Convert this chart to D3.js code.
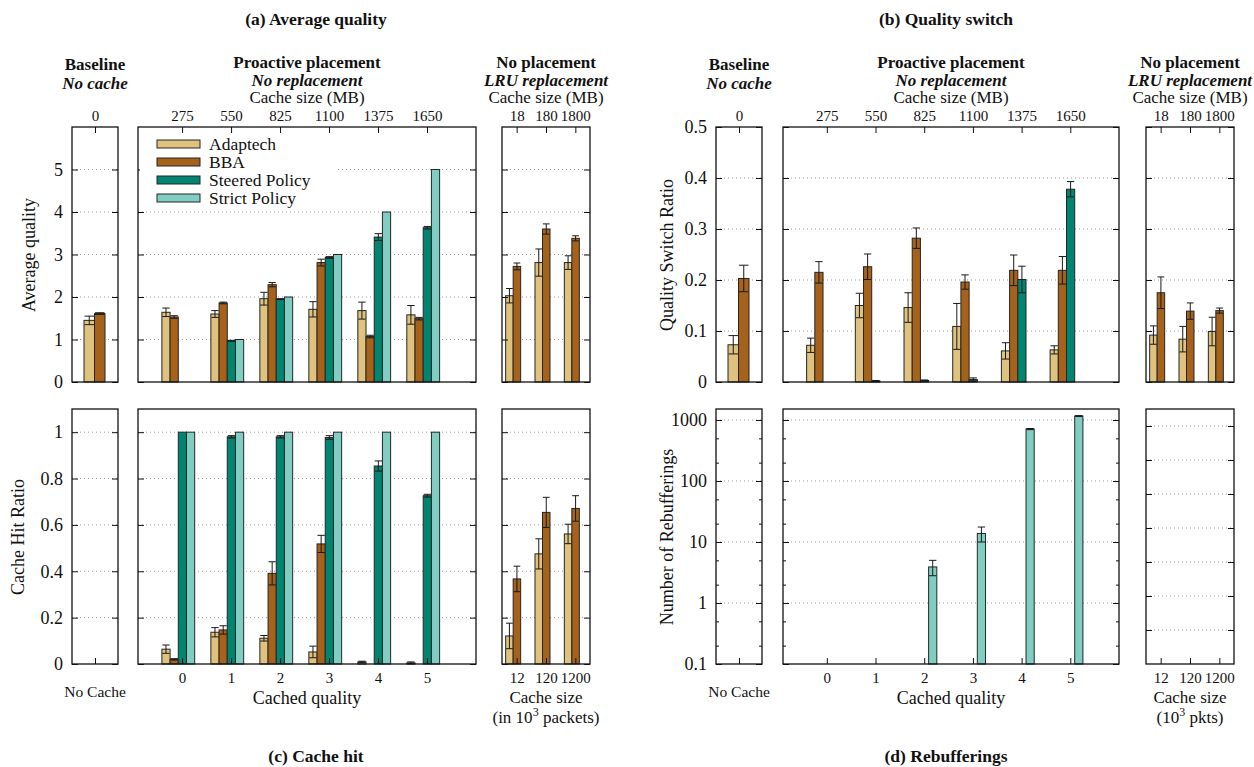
<!DOCTYPE html>
<html><head><meta charset="utf-8">
<script src="https://cdn.jsdelivr.net/npm/d3@7"></script>
<style>
body{margin:0;background:#fff}
svg{display:block}
text{font-family:"Liberation Serif","Times New Roman",Times,serif;fill:#111}
</style>
</head><body>
<script>
// ---------------- DATA ----------------
const seriesNames = ["Adaptech","BBA","Steered Policy","Strict Policy"];
const seriesColors = ["#dfc27d","#a6611a","#018571","#80cdc1"];
const cachedQuality = ["0","1","2","3","4","5"];
const proactiveSizesMB = ["275","550","825","1100","1375","1650"];
const lruSizesMB = ["18","180","1800"];
const lruSizesPkts = ["12","120","1200"];
const baselineSize = ["0"];

// (a) Average quality
const avgBaseline = [1.45, 1.61];
const avgBaselineErr = [0.10, 0.02];
const avgAdaptech = [1.64, 1.60, 1.96, 1.71, 1.68, 1.58];
const avgAdaptechErr = [0.10, 0.08, 0.15, 0.18, 0.20, 0.22];
const avgBBA = [1.53, 1.86, 2.29, 2.81, 1.07, 1.49];
const avgBBAErr = [0.03, 0.02, 0.05, 0.08, 0.03, 0.03];
const avgSteered = [0, 0.97, 1.95, 2.93, 3.41, 3.63];
const avgSteeredErr = [0, 0.01, 0.01, 0.02, 0.08, 0.03];
const avgStrict = [0, 1.0, 2.0, 3.0, 4.0, 5.0];
const avgStrictErr = [0, 0, 0, 0, 0, 0];
const avgLruAdaptech = [2.03, 2.81, 2.81];
const avgLruAdaptechErr = [0.17, 0.32, 0.16];
const avgLruBBA = [2.72, 3.60, 3.38];
const avgLruBBAErr = [0.08, 0.12, 0.06];

// (b) Quality switch ratio
const swBaseline = [0.073, 0.203];
const swBaselineErr = [0.018, 0.026];
const swAdaptech = [0.072, 0.150, 0.146, 0.109, 0.061, 0.063];
const swAdaptechErr = [0.014, 0.024, 0.029, 0.045, 0.016, 0.008];
const swBBA = [0.215, 0.226, 0.282, 0.196, 0.219, 0.219];
const swBBAErr = [0.021, 0.025, 0.020, 0.014, 0.030, 0.027];
const swSteered = [0, 0.002, 0.003, 0.005, 0.201, 0.378];
const swSteeredErr = [0, 0.001, 0.001, 0.003, 0.026, 0.015];
const swStrict = [0, 0, 0, 0, 0, 0];
const swStrictErr = [0, 0, 0, 0, 0, 0];
const swLruAdaptech = [0.092, 0.084, 0.099];
const swLruAdaptechErr = [0.018, 0.025, 0.028];
const swLruBBA = [0.175, 0.139, 0.140];
const swLruBBAErr = [0.031, 0.016, 0.005];

// (c) Cache hit ratio
const hitBaseline = [0, 0];
const hitBaselineErr = [0, 0];
const hitAdaptech = [0.064, 0.137, 0.111, 0.052, 0.009, 0.005];
const hitAdaptechErr = [0.018, 0.020, 0.012, 0.025, 0.003, 0.004];
const hitBBA = [0.020, 0.147, 0.391, 0.518, 0, 0];
const hitBBAErr = [0.003, 0.018, 0.050, 0.037, 0, 0];
const hitSteered = [1.0, 0.98, 0.98, 0.977, 0.854, 0.726];
const hitSteeredErr = [0, 0.005, 0.005, 0.008, 0.022, 0.006];
const hitStrict = [1, 1, 1, 1, 1, 1];
const hitStrictErr = [0, 0, 0, 0, 0, 0];
const hitLruAdaptech = [0.121, 0.475, 0.561];
const hitLruAdaptechErr = [0.055, 0.065, 0.042];
const hitLruBBA = [0.367, 0.654, 0.671];
const hitLruBBAErr = [0.055, 0.065, 0.055];

// (d) Number of rebufferings
const rebAdaptech = [0, 0, 0, 0, 0, 0];
const rebBBA = [0, 0, 0, 0, 0, 0];
const rebSteered = [0, 0, 0, 0, 0, 0];
const rebStrict = [0, 0, 3.9, 13.8, 710, 1160];
const rebStrictErr = [0, 0, 1.1, 3.8, 15, 20];
const zeros6 = [0, 0, 0, 0, 0, 0];

// tick values
const avgTicks = [0,1,2,3,4,5];
const hitTicks = [0,0.2,0.4,0.6,0.8,1];
const swTicks = [0,0.1,0.2,0.3,0.4,0.5];
const rebTicks = [0.1,1,10,100,1000];
const rebMinor = [0.2,0.5,2,5,20,50,200,500];
const rebLruTicks = [1,2,3,4,5,6,7];

// ---------------- LAYOUT ----------------
const W = 1254, H = 767;
const FONT = '"Liberation Serif","Times New Roman",Times,serif';
const svg = d3.select("body").append("svg").attr("width", W).attr("height", H);

const yAvg = d3.scaleLinear().domain([0, 6]).range([382, 127]);
const ySw = d3.scaleLinear().domain([0, 0.5]).range([382, 127]);
const yHit = d3.scaleLinear().domain([0, 1.1]).range([664, 409]);
const yReb = d3.scaleLog().domain([0.1, 1514]).range([664, 409]);
const yRebLru = d3.scaleLinear().domain([0, 7.5]).range([664, 409]);

const cols = {
  L: {base:[72,118], mid:[138,476], lru:[502,590]},
  R: {base:[716,762], mid:[783,1119], lru:[1146,1234]}
};
const kinds = {
  base: {xDomain:[-1,1], barW:10.5, offset:-0.5, n:2},
  mid:  {xDomain:[-0.9,6.0], barW:8.2, offset:-3.8, n:4},
  lru:  {xDomain:[-0.5,2.5], barW:7.5, offset:-3.5, n:2}
};

function mk(vals, errs, color){ return {vals, errs, color}; }

function drawPanel(o){
  const K = kinds[o.kind];
  const [x0, x1] = o.xr;
  const g = svg.append("g");
  const x = d3.scaleLinear().domain(K.xDomain).range([x0, x1]);
  const y = o.y;
  const [yB, yT] = y.range();

  // gridlines
  g.append("g").selectAll("line").data(o.grid).join("line")
    .attr("x1", x0).attr("x2", x1)
    .attr("y1", d => y(d)).attr("y2", d => y(d))
    .attr("stroke", "#9c9c9c").attr("stroke-width", 1)
    .attr("stroke-dasharray", "1,3");

  // bars
  const flat = [];
  o.series.forEach((s, k) => s.vals.forEach((v, i) => {
    if (v > 0) flat.push({i, k, v, e: (s.errs ? s.errs[i] : 0), color: s.color});
  }));
  const cx = d => x(d.i) + K.offset + (d.k - (K.n - 1) / 2) * K.barW;
  g.append("g").selectAll("rect").data(flat).join("rect")
    .attr("x", d => cx(d) - K.barW / 2)
    .attr("width", K.barW)
    .attr("y", d => y(d.v))
    .attr("height", d => yB - y(d.v))
    .attr("fill", d => d.color)
    .attr("stroke", "#262626").attr("stroke-width", 1);

  // error bars
  const eb = flat.filter(d => d.e > 0);
  const lo = d => y(Math.max(d.v - d.e, y.domain()[0]));
  const hi = d => y(d.v + d.e);
  const eg = g.append("g").attr("stroke", "#1a1a1a").attr("stroke-width", 1);
  eg.selectAll(".v").data(eb).join("line").attr("class","v")
    .attr("x1", cx).attr("x2", cx).attr("y1", lo).attr("y2", hi);
  const capW = K.barW * 0.9;
  eg.selectAll(".t").data(eb).join("line").attr("class","t")
    .attr("x1", d => cx(d) - capW/2).attr("x2", d => cx(d) + capW/2)
    .attr("y1", hi).attr("y2", hi);
  eg.selectAll(".b").data(eb).join("line").attr("class","b")
    .attr("x1", d => cx(d) - capW/2).attr("x2", d => cx(d) + capW/2)
    .attr("y1", lo).attr("y2", lo);

  // y axes
  const yl = g.append("g").attr("class","yax").attr("transform", `translate(${x0},0)`)
    .call(d3.axisLeft(y).tickValues(o.yTicks)
          .tickSizeInner(-6).tickSizeOuter(0).tickPadding(9)
          .tickFormat(o.yLabels ? (o.yFmt || (d => d)) : () => ""));
  yl.select(".domain").remove();
  yl.selectAll(".tick text").attr("font-size", 18);
  const yr = g.append("g").attr("transform", `translate(${x1},0)`)
    .call(d3.axisRight(y).tickValues(o.yTicks).tickSizeInner(-6).tickSizeOuter(0).tickFormat(() => ""));
  yr.select(".domain").remove();
  if (o.yMinor) {
    [[x0, d3.axisLeft], [x1, d3.axisRight]].forEach(([xx, ax]) => {
      const m = g.append("g").attr("transform", `translate(${xx},0)`)
        .call(ax(y).tickValues(o.yMinor).tickSizeInner(-3).tickSizeOuter(0).tickFormat(() => ""));
      m.select(".domain").remove();
    });
  }

  // x axis (top or bottom)
  const xTickVals = d3.range(o.xLabels.length);
  let xa;
  if (o.xPos === "top") {
    xa = g.append("g").attr("transform", `translate(0,${yT})`)
      .call(d3.axisTop(x).tickValues(xTickVals).tickSizeInner(-6).tickSizeOuter(0)
        .tickPadding(6).tickFormat(i => o.xLabels[i]));
  } else {
    xa = g.append("g").attr("transform", `translate(0,${yB})`)
      .call(d3.axisBottom(x).tickValues(xTickVals).tickSizeInner(-6).tickSizeOuter(0)
        .tickPadding(8).tickFormat(i => o.xLabels[i]));
  }
  xa.select(".domain").remove();
  xa.selectAll(".tick text").attr("font-size", 15);
  g.selectAll(".tick line").attr("stroke", "#111");
  g.selectAll(".tick text").attr("fill", "#111").attr("font-family", FONT);

  // frame
  g.append("rect").attr("x", x0).attr("y", yT).attr("width", x1 - x0).attr("height", yB - yT)
    .attr("fill", "none").attr("stroke", "#111").attr("stroke-width", 1.3);

  // legend
  if (o.legend) {
    const lg = g.append("g");
    lg.append("rect").attr("x", x0 + 2).attr("y", 133).attr("width", 195).attr("height", 73).attr("fill", "#fff");
    seriesNames.forEach((nm, k) => {
      const cy = 144 + k * 18;
      lg.append("rect").attr("x", x0 + 19).attr("y", cy - 4).attr("width", 43).attr("height", 8)
        .attr("fill", seriesColors[k]).attr("stroke", "#262626").attr("stroke-width", 1);
      lg.append("text").attr("x", x0 + 71).attr("y", cy).attr("dy", "0.35em")
        .attr("font-size", 17.5).text(nm);
    });
  }
  return x;
}

const C = seriesColors;
const fmtNum = d => d3.format("~g")(d);

// ----- (a) Average quality -----
drawPanel({kind:"base", xr:cols.L.base, y:yAvg, grid:[1,2,3,4,5], yTicks:avgTicks, yLabels:true,
  xPos:"top", xLabels:baselineSize,
  series:[mk([avgBaseline[0]],[avgBaselineErr[0]],C[0]), mk([avgBaseline[1]],[avgBaselineErr[1]],C[1])]});
drawPanel({kind:"mid", xr:cols.L.mid, y:yAvg, grid:[1,2,3,4,5], yTicks:avgTicks, yLabels:false,
  xPos:"top", xLabels:proactiveSizesMB, legend:true,
  series:[mk(avgAdaptech,avgAdaptechErr,C[0]), mk(avgBBA,avgBBAErr,C[1]), mk(avgSteered,avgSteeredErr,C[2]), mk(avgStrict,avgStrictErr,C[3])]});
drawPanel({kind:"lru", xr:cols.L.lru, y:yAvg, grid:[1,2,3,4,5], yTicks:avgTicks, yLabels:false,
  xPos:"top", xLabels:lruSizesMB,
  series:[mk(avgLruAdaptech,avgLruAdaptechErr,C[0]), mk(avgLruBBA,avgLruBBAErr,C[1])]});

// ----- (b) Quality switch -----
drawPanel({kind:"base", xr:cols.R.base, y:ySw, grid:[0.1,0.2,0.3,0.4], yTicks:swTicks, yLabels:true, yFmt:fmtNum,
  xPos:"top", xLabels:baselineSize,
  series:[mk([swBaseline[0]],[swBaselineErr[0]],C[0]), mk([swBaseline[1]],[swBaselineErr[1]],C[1])]});
drawPanel({kind:"mid", xr:cols.R.mid, y:ySw, grid:[0.1,0.2,0.3,0.4], yTicks:swTicks, yLabels:false,
  xPos:"top", xLabels:proactiveSizesMB,
  series:[mk(swAdaptech,swAdaptechErr,C[0]), mk(swBBA,swBBAErr,C[1]), mk(swSteered,swSteeredErr,C[2]), mk(swStrict,swStrictErr,C[3])]});
drawPanel({kind:"lru", xr:cols.R.lru, y:ySw, grid:[0.1,0.2,0.3,0.4], yTicks:swTicks, yLabels:false,
  xPos:"top", xLabels:lruSizesMB,
  series:[mk(swLruAdaptech,swLruAdaptechErr,C[0]), mk(swLruBBA,swLruBBAErr,C[1])]});

// ----- (c) Cache hit -----
drawPanel({kind:"base", xr:cols.L.base, y:yHit, grid:[0.2,0.4,0.6,0.8,1], yTicks:hitTicks, yLabels:true, yFmt:fmtNum,
  xPos:"bottom", xLabels:[""],
  series:[mk([hitBaseline[0]],[hitBaselineErr[0]],C[0]), mk([hitBaseline[1]],[hitBaselineErr[1]],C[1])]});
drawPanel({kind:"mid", xr:cols.L.mid, y:yHit, grid:[0.2,0.4,0.6,0.8,1], yTicks:hitTicks, yLabels:false,
  xPos:"bottom", xLabels:cachedQuality,
  series:[mk(hitAdaptech,hitAdaptechErr,C[0]), mk(hitBBA,hitBBAErr,C[1]), mk(hitSteered,hitSteeredErr,C[2]), mk(hitStrict,hitStrictErr,C[3])]});
drawPanel({kind:"lru", xr:cols.L.lru, y:yHit, grid:[0.2,0.4,0.6,0.8,1], yTicks:hitTicks, yLabels:false,
  xPos:"bottom", xLabels:lruSizesPkts,
  series:[mk(hitLruAdaptech,hitLruAdaptechErr,C[0]), mk(hitLruBBA,hitLruBBAErr,C[1])]});

// ----- (d) Rebufferings -----
drawPanel({kind:"base", xr:cols.R.base, y:yReb, grid:[1,10,100,1000], yTicks:rebTicks, yMinor:rebMinor,
  yLabels:true, yFmt:fmtNum,
  xPos:"bottom", xLabels:[""], series:[mk([0],[0],C[0]), mk([0],[0],C[1])]});
drawPanel({kind:"mid", xr:cols.R.mid, y:yReb, grid:[1,10,100,1000], yTicks:rebTicks, yMinor:rebMinor, yLabels:false,
  xPos:"bottom", xLabels:cachedQuality,
  series:[mk(rebAdaptech,zeros6,C[0]), mk(rebBBA,zeros6,C[1]), mk(rebSteered,zeros6,C[2]), mk(rebStrict,rebStrictErr,C[3])]});
drawPanel({kind:"lru", xr:cols.R.lru, y:yRebLru, grid:rebLruTicks, yTicks:rebLruTicks, yLabels:false,
  xPos:"bottom", xLabels:lruSizesPkts,
  series:[mk([0,0,0],[0,0,0],C[0]), mk([0,0,0],[0,0,0],C[1])]});

// ---------------- TEXT ----------------
function txt(x, y, s, opt = {}) {
  const t = svg.append("text").attr("x", x).attr("y", y).attr("text-anchor", opt.anchor || "middle")
    .attr("font-size", opt.size || 17);
  if (opt.bold) t.attr("font-weight", "bold");
  if (opt.italic) t.attr("font-style", "italic");
  t.text(s);
  return t;
}
// titles
txt(316, 25, "(a) Average quality", {bold:true, size:17.5});
txt(946, 25, "(b) Quality switch", {bold:true, size:17.5});
txt(316, 762, "(c) Cache hit", {bold:true, size:17.5});
txt(946, 762, "(d) Rebufferings", {bold:true, size:17.5});

// panel headers and bottom labels
[cols.L, cols.R].forEach(c => {
  const bx = (c.base[0] + c.base[1]) / 2, mx = (c.mid[0] + c.mid[1]) / 2, lx = (c.lru[0] + c.lru[1]) / 2;
  txt(bx, 70, "Baseline", {bold:true});
  txt(bx, 89, "No cache", {bold:true, italic:true});
  txt(mx, 68, "Proactive placement", {bold:true});
  txt(mx, 86, "No replacement", {bold:true, italic:true});
  txt(mx, 103, "Cache size (MB)");
  txt(lx, 68, "No placement", {bold:true});
  txt(lx, 86, "LRU replacement", {bold:true, italic:true});
  txt(lx, 103, "Cache size (MB)");
  txt(bx, 697, "No Cache", {size:15.5});
  txt(mx, 704, "Cached quality", {size:18});
  txt(lx, 703, "Cache size");
});
function supLabel(x, y, pre, post) {
  const t = svg.append("text").attr("x", x).attr("y", y).attr("text-anchor", "middle").attr("font-size", 17);
  t.append("tspan").text(pre);
  t.append("tspan").attr("dy", -7).attr("font-size", 12).text("3");
  t.append("tspan").attr("dy", 7).text(post);
}
supLabel((cols.L.lru[0] + cols.L.lru[1]) / 2, 723, "(in 10", " packets)");
supLabel((cols.R.lru[0] + cols.R.lru[1]) / 2, 723, "(10", " pkts)");

// y-axis titles
function ytitle(cx, cy, s) {
  svg.append("text").attr("transform", `translate(${cx},${cy}) rotate(-90)`)
    .attr("text-anchor", "middle").attr("dy", "0.35em").attr("font-size", 18).text(s);
}
ytitle(29, 255, "Average quality");
ytitle(18, 537, "Cache Hit Ratio");
ytitle(667, 255, "Quality Switch Ratio");
ytitle(667, 537, "Number of Rebufferings");
</script>
</body></html>
